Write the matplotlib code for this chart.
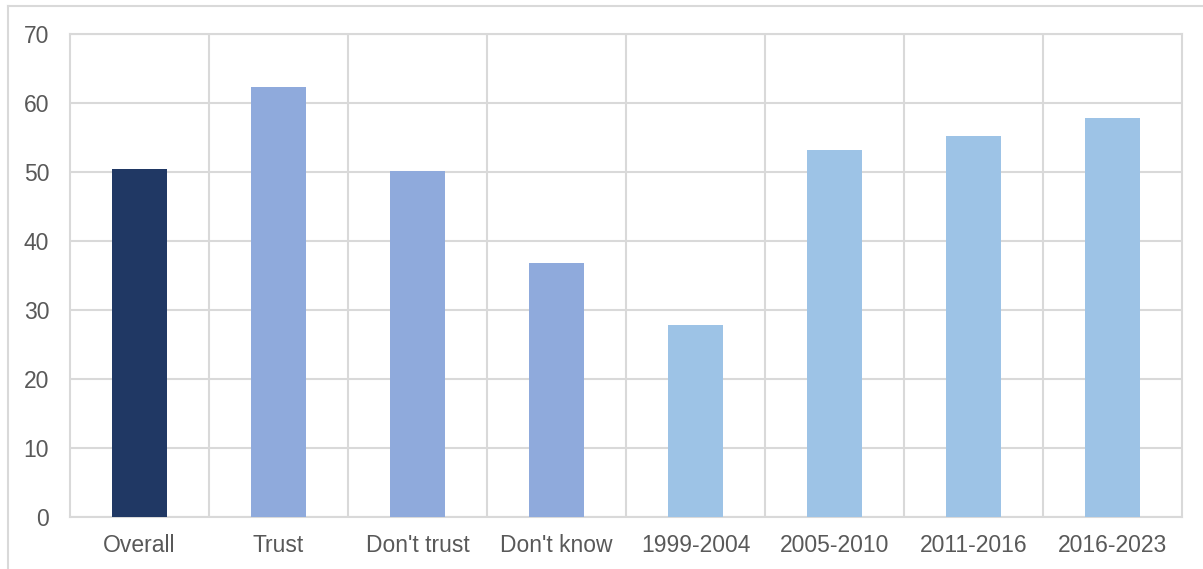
import matplotlib.pyplot as plt
from matplotlib.lines import Line2D
import numpy as np

plt.rcParams['font.family'] = ['Liberation Sans', 'DejaVu Sans']

#data
categories = ['Overall', 'Trust', "Don't trust", "Don't know",
              '1999-2004', '2005-2010', '2011-2016', '2016-2023']
values = [50.4, 62.3, 50.1, 36.8, 27.8, 53.2, 55.2, 57.8]
colors = ['#203864'] + ['#8FAADC'] * 3 + ['#9DC3E6'] * 4

grid_c = '#D9D9D9'
text_c = '#595959'

fig = plt.figure(figsize=(12.03, 5.69), dpi=100)
ax = fig.add_axes([70 / 1203, 52 / 569, 1112 / 1203, 483 / 569])

x = np.arange(len(categories))
ax.bar(x, values, width=0.4, color=colors, zorder=3)

ax.set_xlim(-0.5, len(categories) - 0.5)
ax.set_ylim(0, 70)
ax.set_yticks(range(0, 71, 10))
ax.set_xticks(x)
ax.set_xticklabels(categories)
ax.set_xticks(x[:-1] + 0.5, minor=True)

ax.grid(axis='y', color=grid_c, linewidth=1.5, zorder=0)
ax.grid(axis='x', which='minor', color=grid_c, linewidth=1.5, zorder=0)
ax.grid(axis='x', which='major', visible=False)
for s in ax.spines.values():
    s.set_color(grid_c)
    s.set_linewidth(1.5)

ax.tick_params(axis='both', which='both', length=0, labelsize=16.5, colors=text_c)
ax.tick_params(axis='x', pad=12)
ax.tick_params(axis='y', pad=15)

#outer chart frame (cut off at right and bottom)
fig.add_artist(Line2D([8 / 1203, 1], [1 - 6 / 569, 1 - 6 / 569], color=grid_c, lw=1.5))
fig.add_artist(Line2D([8 / 1203, 8 / 1203], [0, 1 - 6 / 569], color=grid_c, lw=1.5))

fig.savefig('out.png', dpi=100)
